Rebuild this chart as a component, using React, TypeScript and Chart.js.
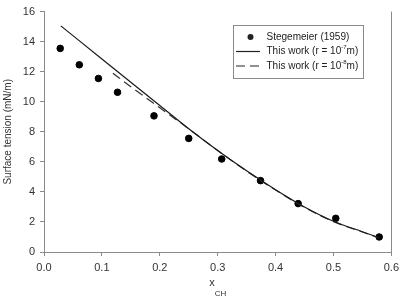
import React, { useEffect, useRef } from "react";
import { Chart, registerables } from "chart.js";

Chart.register(...registerables);

const stegeX = [0.028, 0.061, 0.094, 0.127, 0.19, 0.25, 0.307, 0.374, 0.439, 0.504, 0.579];
const stegeY = [13.55, 12.46, 11.55, 10.63, 9.06, 7.56, 6.19, 4.75, 3.22, 2.24, 1.0];

const work7X = [0.029, 0.1, 0.2, 0.25, 0.3, 0.35, 0.4, 0.45, 0.5, 0.55, 0.579];
const work7Y = [15.05, 12.85, 9.75, 8.2, 6.75, 5.4, 4.15, 3.0, 2.05, 1.35, 0.95];

const work8X = [0.119, 0.15, 0.2, 0.25, 0.3, 0.35, 0.4, 0.45, 0.5, 0.55, 0.579];
const work8Y = [11.9, 11.0, 9.6, 8.2, 6.75, 5.38, 4.12, 2.97, 2.02, 1.33, 0.93];

const legendLabels = ["Stegemeier (1959)", "This work (r = 10", "This work (r = 10"];
const legendSups = ["", "-7", "-8"];
const yTitle = "Surface tension (mN/m)";
const xTitle = "x";
const xTitleSub = "CH";

const FONT = "'Liberation Sans', Arial, sans-serif";

const toPts = (xs: number[], ys: number[]) => xs.map((x, i) => ({ x, y: ys[i] }));

const decorPlugin = {
  id: "decor",
  afterDraw(chart: any) {
    const ctx = chart.ctx as CanvasRenderingContext2D;
    const area = chart.chartArea;
    ctx.save();
    // right border
    ctx.strokeStyle = "#8a8a8a";
    ctx.lineWidth = 1;
    ctx.beginPath();
    ctx.moveTo(Math.round(area.right) + 0.5, area.top);
    ctx.lineTo(Math.round(area.right) + 0.5, area.bottom);
    ctx.stroke();

    // y title
    ctx.fillStyle = "#333";
    ctx.font = `10px ${FONT}`;
    ctx.textAlign = "center";
    ctx.textBaseline = "middle";
    ctx.save();
    ctx.translate(8, (area.top + area.bottom) / 2);
    ctx.rotate(-Math.PI / 2);
    ctx.fillText(yTitle, 0, 0);
    ctx.restore();

    // x title with subscript
    const cx = (area.left + area.right) / 2;
    ctx.textAlign = "left";
    ctx.textBaseline = "alphabetic";
    ctx.font = `11px ${FONT}`;
    const wx = ctx.measureText(xTitle).width;
    ctx.font = `8px ${FONT}`;
    const ws = ctx.measureText(xTitleSub).width;
    const sx = cx - (wx + ws) / 2;
    ctx.font = `11px ${FONT}`;
    ctx.fillText(xTitle, sx, 286);
    ctx.font = `8px ${FONT}`;
    ctx.fillText(xTitleSub, sx + wx, 296);

    // legend
    const bx = 233.5, by = 25.5, bw = 130, bh = 53;
    ctx.fillStyle = "#fff";
    ctx.fillRect(bx, by, bw, bh);
    ctx.strokeStyle = "#8a8a8a";
    ctx.strokeRect(bx, by, bw, bh);
    const rows = [37, 51.5, 66];
    ctx.fillStyle = "#222";
    ctx.strokeStyle = "#222";
    // dot
    ctx.beginPath();
    ctx.arc(250.5, rows[0], 3, 0, Math.PI * 2);
    ctx.fill();
    // solid
    ctx.lineWidth = 1.2;
    ctx.beginPath();
    ctx.moveTo(236, rows[1]);
    ctx.lineTo(260, rows[1]);
    ctx.stroke();
    // dashed
    ctx.setLineDash([9, 5]);
    ctx.beginPath();
    ctx.moveTo(236, rows[2]);
    ctx.lineTo(260, rows[2]);
    ctx.stroke();
    ctx.setLineDash([]);
    ctx.textBaseline = "middle";
    for (let i = 0; i < 3; i++) {
      ctx.font = `10px ${FONT}`;
      ctx.fillText(legendLabels[i], 266.5, rows[i]);
      if (legendSups[i]) {
        let x = 266.5 + ctx.measureText(legendLabels[i]).width;
        ctx.font = `6px ${FONT}`;
        ctx.fillText(legendSups[i], x, rows[i] - 4);
        x += ctx.measureText(legendSups[i]).width;
        ctx.font = `10px ${FONT}`;
        ctx.fillText("m)", x, rows[i]);
      }
    }
    ctx.restore();
  },
};

export default function App() {
  const ref = useRef<HTMLCanvasElement>(null);
  useEffect(() => {
    document.body.style.margin = "0";
    const chart = new Chart(ref.current!, {
      type: "scatter",
      data: {
        datasets: [
          {
            type: "line",
            data: toPts(work7X, work7Y),
            borderColor: "#1a1a1a",
            borderWidth: 1.2,
            pointRadius: 0,
            tension: 0.3,
            cubicInterpolationMode: "monotone",
          } as any,
          {
            type: "line",
            data: toPts(work8X, work8Y),
            borderColor: "#333",
            borderWidth: 1.2,
            borderDash: [9, 5],
            pointRadius: 0,
            cubicInterpolationMode: "monotone",
          } as any,
          {
            type: "scatter",
            data: toPts(stegeX, stegeY),
            backgroundColor: "#000",
            borderColor: "#000",
            pointRadius: 3.3,
          },
        ],
      },
      options: {
        animation: false,
        responsive: false,
        events: [],
        layout: { padding: { top: 7, right: 11, left: 0, bottom: 0 } },
        plugins: { legend: { display: false }, tooltip: { enabled: false } },
        scales: {
          x: {
            type: "linear",
            min: 0,
            max: 0.6,
            afterFit: (s: any) => { s.height = 44; },
            ticks: {
              stepSize: 0.1,
              callback: (v: any) => Number(v).toFixed(1),
              font: { family: FONT, size: 11 },
              color: "#333",
              padding: 5,
            },
            grid: { drawOnChartArea: false, tickLength: 4, color: "#8a8a8a" },
            border: { color: "#8a8a8a" },
          },
          y: {
            min: 0,
            max: 16,
            afterFit: (s: any) => { s.width = 44; },
            ticks: {
              stepSize: 2,
              font: { family: FONT, size: 11 },
              color: "#333",
              padding: 5,
            },
            grid: { drawOnChartArea: false, tickLength: 4, color: "#8a8a8a" },
            border: { color: "#8a8a8a" },
          },
        },
      },
      plugins: [decorPlugin],
    });
    return () => chart.destroy();
  }, []);
  return (
    <div style={{ position: "fixed", left: 0, top: 0, width: 404, height: 296, background: "#fff" }}>
      <canvas ref={ref} width={404} height={296} style={{ width: 404, height: 296 }} />
    </div>
  );
}
